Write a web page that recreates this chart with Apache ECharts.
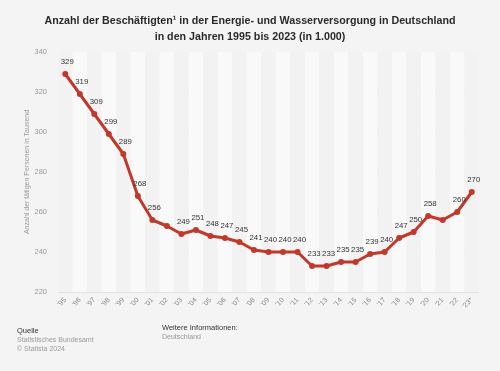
<!DOCTYPE html>
<html>
<head>
<meta charset="utf-8">
<script src="https://cdn.jsdelivr.net/npm/echarts@6/dist/echarts.min.js"></script>
<style>
html,body{margin:0;padding:0;background:#f4f4f4;}
#c{width:500px;height:371px;}
</style>
</head>
<body>
<div id="c"></div>
<script>
const years = ["'95","'96","'97","'98","'99","'00","'01","'02","'03","'04","'05","'06","'07","'08","'09","'10","'11","'12","'13","'14","'15","'16","'17","'18","'19","'20","'21","'22","'23*"];
const values = [329,319,309,299,289,268,256,253,249,251,248,247,245,241,240,240,240,233,233,235,235,239,240,247,250,258,256,260,270];
const hiddenLabels = ["'02","'21"];
const yTicks = [220,240,260,280,300,320,340];

const chart = echarts.init(document.getElementById('c'), null, {renderer:'canvas'});
chart.setOption({
  backgroundColor:'#f4f4f4',
  animation:false,
  title:{
    text:'Anzahl der Beschäftigten¹ in der Energie- und Wasserversorgung in Deutschland\nin den Jahren 1995 bis 2023 (in 1.000)',
    left:'center', top:8,
    textStyle:{fontFamily:'Liberation Sans, Arial, sans-serif',fontSize:10.7,fontWeight:'bold',color:'#2a2a2a',lineHeight:16}
  },
  grid:{left:58,right:21,top:52,bottom:79},
  xAxis:{
    type:'category', data:years, boundaryGap:true,
    axisLine:{show:false}, axisTick:{show:false},
    axisLabel:{rotate:45,fontSize:7,color:'#888',fontFamily:'Liberation Sans, Arial, sans-serif',margin:7,interval:0},
    splitArea:{show:true,interval:0,areaStyle:{color:['#f2f2f2','#f9f9f9']}},
    splitLine:{show:false}
  },
  yAxis:{
    type:'value', min:yTicks[0], max:yTicks[yTicks.length-1], interval:20,
    axisLine:{show:false}, axisTick:{show:false},
    axisLabel:{fontSize:7.5,color:'#999',fontFamily:'Liberation Sans, Arial, sans-serif',margin:11},
    splitLine:{lineStyle:{color:'#e2e2e2',width:1}},
    name:'Anzahl der tätigen Personen in Tausend',
    nameLocation:'middle', nameGap:27, nameRotate:90, nameMoveOverlap:false,
    nameTextStyle:{fontSize:7,color:'#999',fontFamily:'Liberation Sans, Arial, sans-serif'}
  },
  series:[{
    type:'line', data:values,
    symbol:'circle', symbolSize:6,
    lineStyle:{color:'#c0392b',width:3},
    itemStyle:{color:'#c0392b'},
    label:{
      show:true, position:'top', distance:5, offset:[2,0],
      fontSize:7.8, color:'#333', fontFamily:'Liberation Sans, Arial, sans-serif',
      formatter:p=> hiddenLabels.includes(years[p.dataIndex]) ? '' : String(p.value)
    }
  }],
  graphic:[
    {type:'text',left:17,top:327,style:{text:'Quelle',fontSize:7.5,fill:'#333',fontFamily:'Liberation Sans, Arial, sans-serif'}},
    {type:'text',left:17,top:337,style:{text:'Statistisches Bundesamt',fontSize:7,fill:'#999',fontFamily:'Liberation Sans, Arial, sans-serif'}},
    {type:'text',left:17,top:346,style:{text:'© Statista 2024',fontSize:7,fill:'#999',fontFamily:'Liberation Sans, Arial, sans-serif'}},
    {type:'text',left:162,top:324,style:{text:'Weitere Informationen:',fontSize:7.5,fill:'#333',fontFamily:'Liberation Sans, Arial, sans-serif'}},
    {type:'text',left:162,top:334,style:{text:'Deutschland',fontSize:7,fill:'#999',fontFamily:'Liberation Sans, Arial, sans-serif'}}
  ]
});
</script>
</body>
</html>
